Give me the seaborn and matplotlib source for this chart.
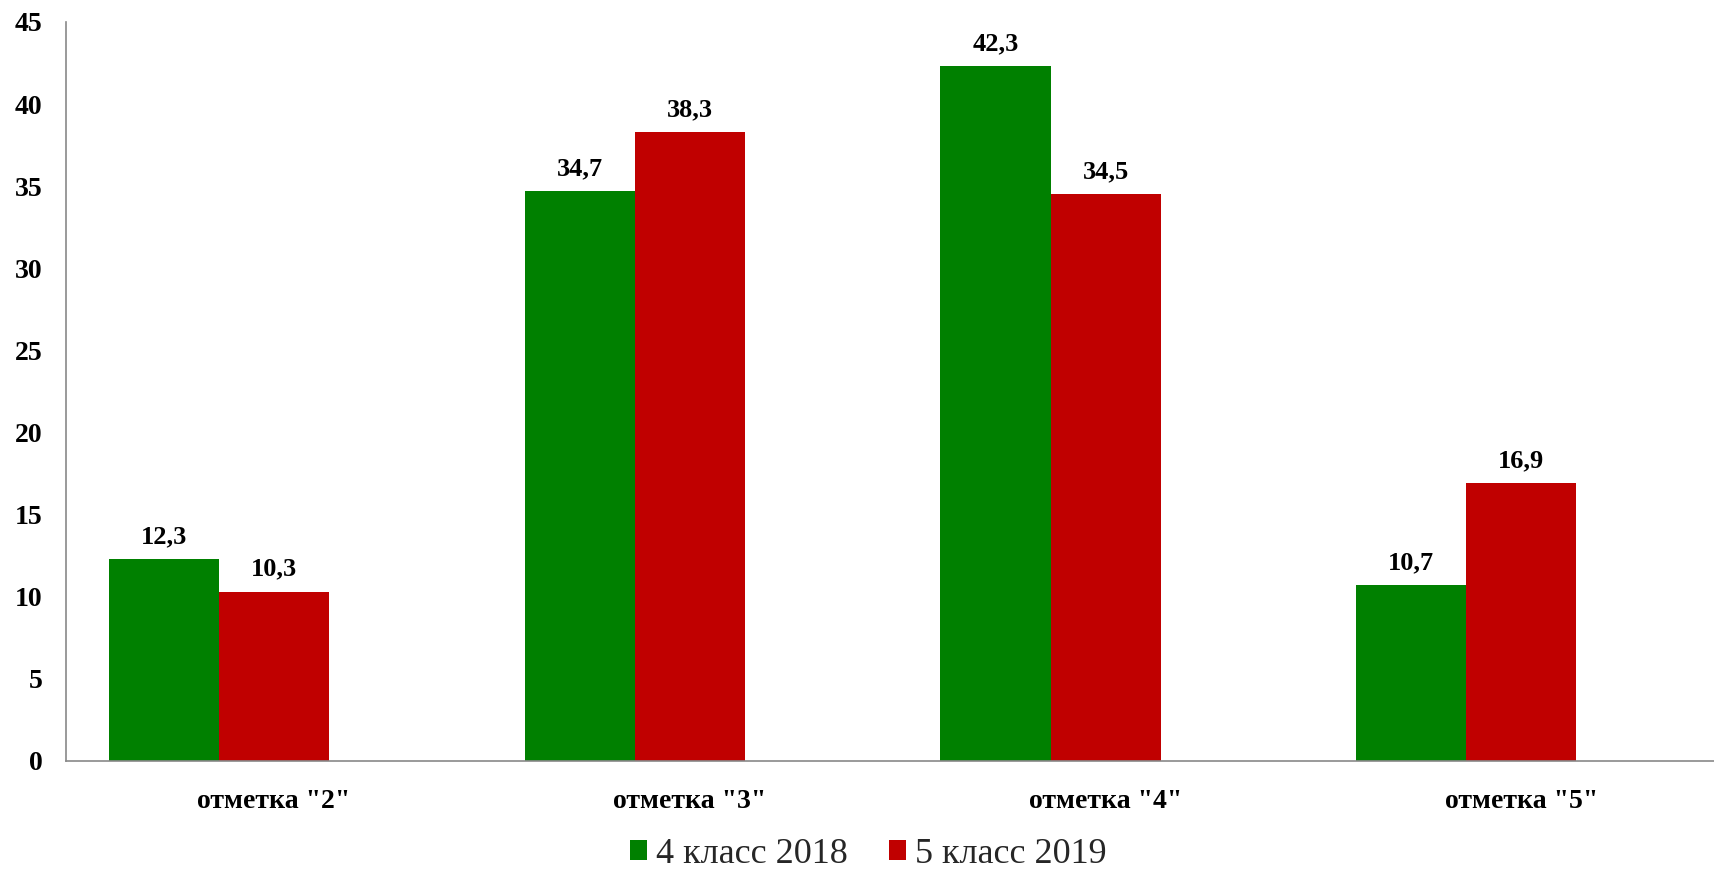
import numpy as np
import pandas as pd
import matplotlib
matplotlib.use("Agg")
import matplotlib.pyplot as plt
import seaborn as sns
from matplotlib.patches import Patch

# Share of marks by grade level
categories = ['отметка "2"', 'отметка "3"', 'отметка "4"', 'отметка "5"']
series_names = ["4 класс 2018", "5 класс 2019", "Ряд 3"]
values_2018 = [12.3, 34.7, 42.3, 10.7]
values_2019 = [10.3, 38.3, 34.5, 16.9]
values_empty = [0, 0, 0, 0]  # reserved third slot in each group, left blank
colors = ["#008000", "#C00000", "#FFFFFF"]
y_ticks = [0, 5, 10, 15, 20, 25, 30, 35, 40, 45]

sns.set_theme(style="white")
plt.rcParams["font.family"] = ["Liberation Serif", "DejaVu Serif"]

df = pd.DataFrame({
    "Отметка": categories * 3,
    "Серия": np.repeat(series_names, len(categories)),
    "Процент": values_2018 + values_2019 + values_empty,
})

fig = plt.figure(figsize=(17.14, 8.72), dpi=100)
ax = fig.add_axes([0.0385, 0.1273, 0.9704, 0.8475])

sns.barplot(
    data=df, x="Отметка", y="Процент", hue="Серия",
    order=categories, hue_order=series_names,
    palette=dict(zip(series_names, colors)),
    width=0.794, errorbar=None, linewidth=0, saturation=1,
    legend=False, ax=ax,
)

for container, vals in zip(ax.containers[:2], [values_2018, values_2019]):
    ax.bar_label(
        container,
        labels=[f"{v:.1f}".replace(".", ",") for v in vals],
        padding=8, fontsize=19, fontweight="bold", color="black",
    )

ax.set_xlim(-0.5, 3.5)
ax.set_ylim(0, 45)
ax.set_yticks(y_ticks)
ax.set_yticklabels([str(t) for t in y_ticks])
ax.set_xlabel("")
ax.set_ylabel("")

for side in ("top", "right"):
    ax.spines[side].set_visible(False)
for side in ("left", "bottom"):
    ax.spines[side].set_color("#898989")
    ax.spines[side].set_linewidth(1.2)

ax.tick_params(axis="y", length=0, pad=17, labelsize=20)
ax.tick_params(axis="x", length=0, pad=20, labelsize=20)
for lbl in ax.get_xticklabels() + ax.get_yticklabels():
    lbl.set_fontweight("bold")
    lbl.set_color("black")

handles = [Patch(facecolor=c, edgecolor="none", label=n)
           for n, c in zip(series_names[:2], colors[:2])]
fig.legend(
    handles=handles, loc="center", bbox_to_anchor=(0.5064, 0.02),
    ncol=2, frameon=False, fontsize=26,
    handlelength=0.47, handleheight=0.47,
    handletextpad=0.25, columnspacing=1.14, borderpad=0,
)

fig.savefig("out.png", dpi=100)
